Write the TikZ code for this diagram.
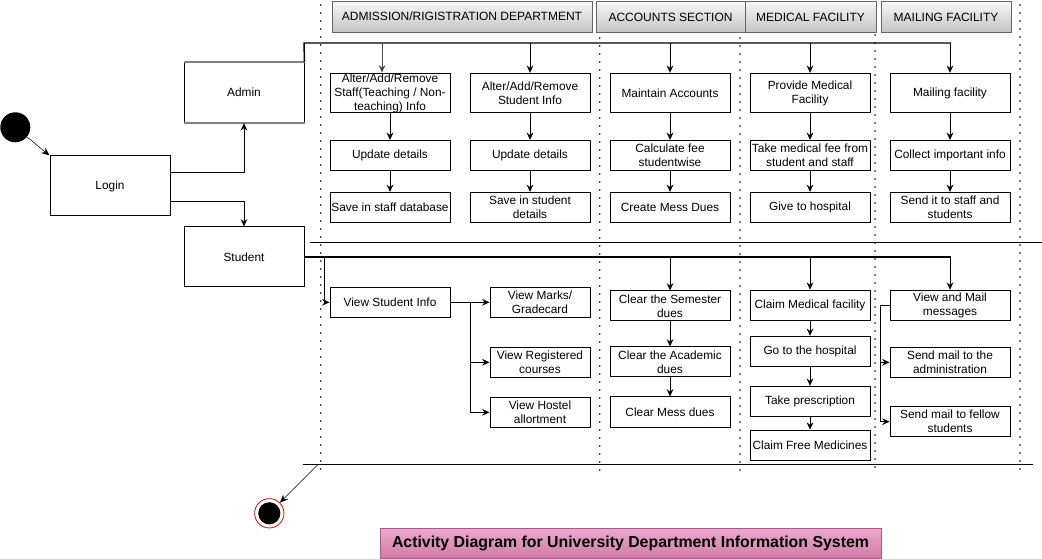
\documentclass[tikz,border=0pt]{standalone}
\usepackage{fontspec}
\setmainfont{Liberation Sans}
\usepackage{tikz}
\usetikzlibrary{arrows.meta}
\definecolor{headtop}{HTML}{F7F7F7}
\definecolor{headbot}{HTML}{C4C4C4}
\definecolor{titletop}{HTML}{EDA9CC}
\definecolor{titlebot}{HTML}{CF7DA7}
\definecolor{titleline}{HTML}{A85A88}
\begin{document}
\begin{tikzpicture}[x=0.75pt,y=-0.75pt,
  act/.style={draw, line width=0.75pt, minimum width=90pt, minimum height=22.5pt, inner sep=0.3pt, align=center, font=\fontsize{8.9}{10.5}\selectfont},
  tallact/.style={act, minimum height=29.5pt},
  smallact/.style={act, minimum width=75pt},
  bigact/.style={act, minimum height=45pt},
  lanehead/.style={draw=black!60, top color=headtop, bottom color=headbot, minimum height=23pt, inner sep=0pt, font=\fontsize{9}{11}\selectfont},
  lanesep/.style={line width=1.4pt, dash pattern=on 0pt off 6pt, line cap=round},
  bar/.style={line width=1.1pt},
  arr/.style={line width=0.75pt, -{Stealth[length=5.5pt,width=5pt]}},
  thinarr/.style={line width=0.4pt, -{Stealth[length=6pt,width=5pt]}}]
\useasboundingbox (0,0) rectangle (1042,559);

\draw[lanesep] (320.7,5) -- (320.7,473);
\draw[lanesep] (599.7,38) -- (599.7,473);
\draw[lanesep] (740,38) -- (740,473);
\draw[lanesep] (875,3) -- (875,473);
\draw[lanesep] (1020,5) -- (1020,473);
\draw[line width=0.75pt] (310,242.3) -- (1042,242.3);
\draw[line width=0.75pt] (303,464.3) -- (1033,464.3);

\node[lanehead, minimum width=195pt] (hadm) at (462,16.5) {ADMISSION/RIGISTRATION DEPARTMENT};
\node[lanehead, minimum width=111.75pt] (hacc) at (670.5,17) {ACCOUNTS SECTION};
\node[lanehead, minimum width=98.25pt] (hmed) at (810.5,17) {MEDICAL FACILITY};
\node[lanehead, minimum width=97.5pt] (hmail) at (946,17) {MAILING FACILITY};

\node[circle, fill=black, minimum size=22.5pt, inner sep=0pt] (start) at (15.3,127.3) {};
\node[bigact] (login) at (110,186) {Login};
\node[bigact] (admin) at (244,92.7) {Admin};
\node[bigact] (student) at (244,257) {Student};
\draw[black!50, line width=1.2pt] (admin.north west) -- (admin.north east);
\draw[black!50, line width=1.2pt] (admin.south west) -- (admin.south east);
\draw[thinarr] (start) -- (login.north west);
\draw[arr] ([yshift=10.3pt]login.east) -| (admin.south);
\draw[arr] ([yshift=-12pt]login.east) -| (student.north);

\node[tallact] (s1) at (390,93) {Alter/Add/Remove\\Staff(Teaching / Non-\\teaching) Info};
\node[act] (s2) at (390,155.5) {Update details};
\node[act] (s3) at (390,207.5) {Save in staff database};
\node[tallact] (t1) at (530,93) {Alter/Add/Remove\\Student Info};
\node[act] (t2) at (530,155.5) {Update details};
\node[act] (t3) at (530,207.5) {Save in student\\details};
\node[tallact] (a1) at (670,93) {Maintain Accounts};
\node[act] (a2) at (670,155.5) {Calculate fee\\studentwise};
\node[act] (a3) at (670,207.5) {Create Mess Dues};
\node[tallact] (m1) at (810,93) {Provide Medical\\Facility};
\node[act] (m2) at (810,155.5) {Take medical fee from\\student and staff};
\node[act] (m3) at (810,207.5) {Give to hospital};
\node[tallact] (f1) at (950,93) {Mailing facility};
\node[act] (f2) at (950,155.5) {Collect important info};
\node[act] (f3) at (950,207.5) {Send it to staff and\\students};

\coordinate (abar) at (304,43);
\coordinate (ab1) at (382,43);
\draw[bar] (admin.north east) -- (abar) -- (951,43);
\draw[line width=0.5pt, black!70, -{Stealth[length=5.5pt,width=5pt]}] (ab1) -- (ab1 |- s1.north);
\draw[arr] (t1.north |- abar) -- (t1.north);
\draw[arr] (a1.north |- abar) -- (a1.north);
\draw[arr] (m1.north |- abar) -- (m1.north);
\draw[arr] (f1.north |- abar) -- (f1.north);
\foreach \col in {s,t,a,m,f}{
  \draw[arr] (\col1) -- (\col2);
  \draw[arr] (\col2) -- (\col3);
}

\node[act] (vi) at (390,302.3) {View Student Info};
\node[smallact] (vm) at (540,302.3) {View Marks/\\Gradecard};
\node[smallact] (vr) at (540,362.3) {View Registered\\courses};
\node[smallact] (vh) at (540,412.3) {View Hostel\\allortment};
\node[act] (c1) at (670,306) {Clear the Semester\\dues};
\node[act] (c2) at (670,362) {Clear the Academic\\dues};
\node[act] (c3) at (670,412) {Clear Mess dues};
\node[act] (h1) at (810,305.2) {Claim Medical facility};
\node[act] (h2) at (810,351.3) {Go to the hospital};
\node[act] (h3) at (810,401.3) {Take prescription};
\node[act] (h4) at (810,445.2) {Claim Free Medicines};
\node[act] (e1) at (950,305.3) {View and Mail\\messages};
\node[act] (e2) at (950,362.3) {Send mail to the\\administration};
\node[act] (e3) at (950,421.7) {Send mail to fellow\\students};

\coordinate (sbar) at (951,257);
\coordinate (sb0) at (324.5,257);
\draw[bar] (student.east) -- (sbar);
\draw[arr] (sb0) |- (vi.west);
\draw[arr] (c1.north |- sbar) -- (c1.north);
\draw[arr] (h1.north |- sbar) -- (h1.north);
\draw[arr] (e1.north |- sbar) -- (e1.north);

\coordinate (vsplit) at (470.7,302.3);
\draw[arr] (vi.east) -- (vm.west);
\draw[arr] (vsplit) |- (vr.west);
\draw[arr] (vsplit) |- (vh.west);

\draw[arr] (c1) -- (c2);
\draw[arr] (c2) -- (c3);
\draw[arr] (h1) -- (h2);
\draw[arr] (h2) -- (h3);
\draw[arr] (h3) -- (h4);

\coordinate (msplit) at (880.7,305.3);
\draw[bar] (e1.west) -- (msplit);
\draw[arr] (msplit) |- (e2.west);
\draw[arr] (msplit) |- (e3.west);

\node[circle, draw=red, line width=0.6pt, minimum size=22pt, inner sep=0pt,
  path picture={\fill (path picture bounding box.center) circle (8.3pt);}] (finish) at (269.3,513.3) {};
\coordinate (endfrom) at (318.3,464.3);
\draw[thinarr] (endfrom) -- (finish);

\node[draw=titleline, top color=titletop, bottom color=titlebot, minimum width=375.75pt, minimum height=22.5pt, inner sep=0pt, font=\fontsize{11.9}{14}\selectfont\bfseries] (title) at (630.5,543) {Activity Diagram for University Department Information System};
\end{tikzpicture}
\end{document}
